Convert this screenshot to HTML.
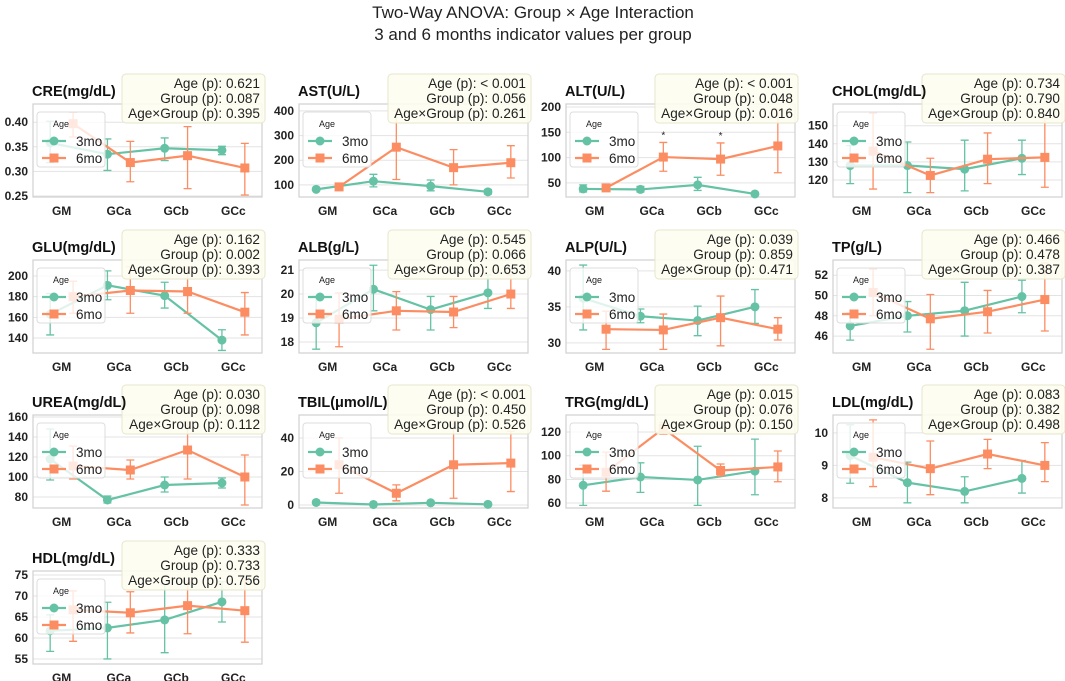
<!DOCTYPE html>
<html><head><meta charset="utf-8"><style>
html,body{margin:0;padding:0;background:#fff;}
svg{display:block;font-family:"Liberation Sans",sans-serif;}
</style></head><body>
<svg id="chart" width="1065" height="681" viewBox="0 0 1065 681">
<text x="533" y="18" text-anchor="middle" font-size="17" fill="#222">Two-Way ANOVA: Group × Age Interaction</text>
<text x="533" y="40" text-anchor="middle" font-size="17" fill="#222">3 and 6 months indicator values per group</text>
</svg>
<script>
const titles = ["CRE(mg/dL)","AST(U/L)","ALT(U/L)","CHOL(mg/dL)","GLU(mg/dL)","ALB(g/L)","ALP(U/L)","TP(g/L)","UREA(mg/dL)","TBIL(μmol/L)","TRG(mg/dL)","LDL(mg/dL)","HDL(mg/dL)"];
const categories = ["GM","GCa","GCb","GCc"];
const ageLabels = ["3mo","6mo"];
const yDomains = [[0.248,0.437],[51,428],[22,206],[110.6,162],[125.5,215.5],[17.54,21.42],[28.6,41.5],[44.33,53.5],[69,162],[-1.8,53.7],[55.8,134.4],[7.69,10.55],[53.8,75.95]];
const yTicks = [[0.25,0.30,0.35,0.40],[100,200,300,400],[50,100,150,200],[120,130,140,150],[140,160,180,200],[18,19,20,21],[30,35,40],[46,48,50,52],[80,100,120,140,160],[0,20,40],[60,80,100,120],[8,9,10],[55,60,65,70,75]];
const tickLabels = [["0.25","0.30","0.35","0.40"],["100","200","300","400"],["50","100","150","200"],["120","130","140","150"],["140","160","180","200"],["18","19","20","21"],["30","35","40"],["46","48","50","52"],["80","100","120","140","160"],["0","20","40"],["60","80","100","120"],["8","9","10"],["55","60","65","70","75"]];
const mean3 = [[0.358,0.335,0.347,0.343],[82,115,95,72],[38,37,46,28],[128,128,126,132],[163,191,181,138],[18.8,20.2,19.35,20.05],[36.2,33.7,33.1,35],[47,48,48.5,49.9],[118,77,92,94],[1.5,0.3,1.3,0.4],[75,82,79.5,87],[9.3,8.47,8.2,8.6],[61.7,62.4,64.3,68.6]];
const lo3 = [[0.318,0.302,0.322,0.334],[78,92,76,63],[32,32,35,28],[118,113,114,123],[143,177,169,128],[17.7,19.3,18.5,19.4],[31.8,32.8,31,32.7],[45.6,46.4,46,48.3],[97,74,85,89],[1.2,0.1,1.0,0.2],[58,69,58,67],[8.45,7.85,7.85,8.15],[56.8,55,56.5,63.8]];
const hi3 = [[0.402,0.366,0.368,0.351],[86,143,120,81],[46,43,61,28],[139,141,142,142],[183,205,194,148],[19.9,21.2,19.9,20.8],[40.8,34.7,35.1,37.4],[48.3,49.4,51.3,51.5],[148,81,100,99],[1.8,0.5,1.6,0.6],[92,94,108,114],[10.25,9.1,8.65,9.15],[65.5,68.5,72.7,73.4]];
const mean6 = [[0.397,0.318,0.332,0.307],[92,253,170,190],[40,101,97,123],[136,122.5,131.5,132.5],[180,186,185,165],[18.95,19.3,19.25,20.0],[31.9,31.8,33.5,31.9],[50.3,47.7,48.4,49.6],[111,107,127,100],[24,7,24,25],[86,123,87.5,90.5],[9.25,8.9,9.35,9.0],[66.7,66,67.7,66.5]];
const lo6 = [[0.37,0.279,0.265,0.252],[85,122,100,128],[35,73,65,70],[115,113,118,116],[164,164,164,143],[17.8,18.5,18.6,19.4],[29.1,29.1,29.6,30.4],[48,44.7,46.3,46.5],[98,98,98,72],[7,2.5,4,8],[70,118,83,78],[8.35,8.1,8.9,8.5],[59.2,61.2,61,59]];
const hi6 = [[0.42,0.361,0.391,0.357],[100,400,243,259],[44,130,129,196],[157,132,146,154],[195,209,209,184],[20.05,20.1,19.9,20.8],[34.4,34,36.5,33.5],[52.6,50.1,50.5,53.2],[131,117,155,122],[40,12,50,44],[103,128,93,104],[10.4,9.75,9.8,9.7],[71.2,71,73.3,73.5]];
const pAge = ["0.621","< 0.001","< 0.001","0.734","0.162","0.545","0.039","0.466","0.030","< 0.001","0.015","0.083","0.333"];
const pGroup = ["0.087","0.056","0.048","0.790","0.002","0.066","0.859","0.478","0.098","0.450","0.076","0.382","0.733"];
const pInter = ["0.395","0.261","0.016","0.840","0.393","0.653","0.471","0.387","0.112","0.526","0.150","0.498","0.756"];
const stars = [[],[],[1,2,3],[],[],[],[],[],[],[],[],[],[]];

const NS = "http://www.w3.org/2000/svg";
const svg = document.getElementById("chart");
const colLeft = [33,299,566,833], rowTop = [104,260,415,571];
const W = 229, H = 93;
const C3 = "#66c2a5", C6 = "#fc8d62";
function mk(tag, attrs, parent){const e=document.createElementNS(NS,tag);for(const k in attrs)e.setAttribute(k,attrs[k]);(parent||svg).appendChild(e);return e;}

titles.forEach((t,i)=>{
  const L = colLeft[i%4], T = rowTop[Math.floor(i/4)];
  const g = mk("g",{});
  
  
  const [d0,d1] = yDomains[i];
  const y = v => T + H - (v-d0)/(d1-d0)*H;
  const x = c => L + (c+0.5)/4*W;
  yTicks[i].forEach((tv,k)=>{
    const gl = mk("line",{x1:L,x2:L+W,y1:y(tv),y2:y(tv),stroke:"#e3e3e3","stroke-width":1},g);
    
    
    const tl = mk("text",{x:L-5,y:y(tv)+4,"text-anchor":"end","font-size":12,"font-weight":"bold",fill:"#222"},g);
    tl.textContent = tickLabels[i][k];
    
    
  });
  const fr = mk("rect",{x:L,y:T,width:W,height:H,fill:"none",stroke:"#d0d0d0","stroke-width":1.2},g);
  
  
  categories.forEach((c,k)=>{
    const xl = mk("text",{x:x(k),y:T+H+18,"text-anchor":"middle","font-size":12,"font-weight":"bold",fill:"#222"},g);
    xl.textContent = c;
    
    
  });
  const series = [[mean3[i],lo3[i],hi3[i],C3,-0.2,"circle"],[mean6[i],lo6[i],hi6[i],C6,0.2,"square"]];
  series.forEach(([m,lo,hi,col,off,shape],si)=>{
    const sg = mk("g",{},g);
    
    
    const pts = m.map((v,k)=>x(k+off)+","+y(v)).join(" ");
    const pl = mk("polyline",{points:pts,fill:"none",stroke:col,"stroke-width":2.2},sg);
    
    
    m.forEach((v,k)=>{
      const xx = x(k+off);
      const eb = mk("path",{d:`M${xx},${y(lo[k])}V${y(hi[k])}M${xx-4},${y(lo[k])}H${xx+4}M${xx-4},${y(hi[k])}H${xx+4}`,stroke:col,"stroke-width":1.3,fill:"none"},sg);
      
      
      let mkr;
      if(shape==="circle") mkr = mk("circle",{cx:xx,cy:y(v),r:4.5,fill:col},sg);
      else mkr = mk("rect",{x:xx-4.5,y:y(v)-4.5,width:9,height:9,fill:col},sg);
      
      
    });
  });
  stars[i].forEach(k=>{
    const st = mk("text",{x:x(k+0.2),y:y(hi6[i][k])-4,"text-anchor":"middle","font-size":10,fill:"#222"},g);
    st.textContent = "*";
    
    
  });
  const lg = mk("g",{},g);
  
  
  mk("rect",{x:L+4,y:T+8,width:68,height:55,rx:3,fill:"#fff","fill-opacity":0.8,stroke:"#dcdcdc"},lg);
  const lt = mk("text",{x:L+28,y:T+23,"text-anchor":"middle","font-size":9,fill:"#222"},lg);
  lt.textContent = "Age";
  
  
  [[C3,"circle"],[C6,"square"]].forEach(([col,shape],si)=>{
    const yy = T+37+si*17;
    mk("line",{x1:L+9,x2:L+33,y1:yy,y2:yy,stroke:col,"stroke-width":2.2},lg);
    if(shape==="circle") mk("circle",{cx:L+21,cy:yy,r:4.5,fill:col},lg);
    else mk("rect",{x:L+16.5,y:yy-4.5,width:9,height:9,fill:col},lg);
    const le = mk("text",{x:L+43,y:yy+5,"font-size":13.5,fill:"#222"},lg);
    le.textContent = ageLabels[si];
    
    
  });
  const pb = mk("g",{},g);
  
  
  mk("rect",{x:L+89,y:T-30,width:W-89+3,height:49,rx:4,fill:"#fdfdf0","fill-opacity":0.9,stroke:"#e6e6cc"},pb);
  ["Age (p): "+pAge[i],"Group (p): "+pGroup[i],"Age×Group (p): "+pInter[i]].forEach((s,k)=>{
    const pt = mk("text",{x:L+W-2,y:T-16+k*15,"text-anchor":"end","font-size":13.6,fill:"#222"},pb);
    pt.textContent = s;
    
    
  });
  const tt = mk("text",{x:L-1,y:T-8,"font-size":14.5,"font-weight":"bold",fill:"#111"},g);
  tt.textContent = t;
  
  
});
</script>
</body></html>
